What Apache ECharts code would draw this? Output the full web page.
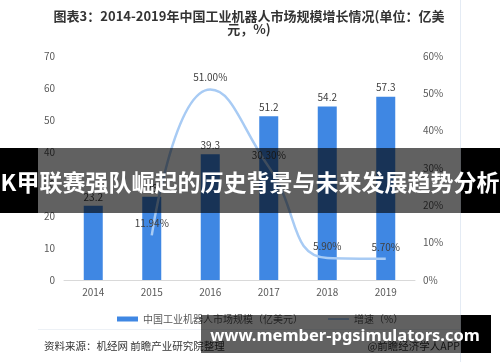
<!DOCTYPE html>
<html>
<head>
<meta charset="utf-8">
<script src="https://cdn.jsdelivr.net/npm/echarts@6/dist/echarts.min.js"></script>
<style>html,body{margin:0;padding:0;background:#fff;}#c{width:500px;height:362px;}</style>
</head>
<body>
<div id="c"></div>
<script>
var categories = ['2014', '2015', '2016', '2017', '2018', '2019'];
var marketSize = [23.2, 26.0, 39.3, 51.2, 54.2, 57.3];
var growthRate = [null, 11.94, 51.00, 30.30, 5.90, 5.70];
var leftTicks = { min: 0, max: 70, interval: 10 };
var rightTicks = { min: 0, max: 60, interval: 10 };
var seriesNames = ['中国工业机器人市场规模（亿美元）', '增速（%）'];
var titleText = '图表3：2014-2019年中国工业机器人市场规模增长情况(单位：亿美\n元，%)';
var sourceText = '资料来源：机经网 前瞻产业研究院整理';
var appText = '@前瞻经济学人APP';
var bannerText = 'K甲联赛强队崛起的历史背景与未来发展趋势分析';
var urlText = 'www.member-pgsimulators.com';

var chart = echarts.init(document.getElementById('c'), null, { renderer: 'canvas' });
var FONT = '"Noto Sans CJK SC", "Noto Sans", sans-serif';
chart.setOption({
  animation: false,
  textStyle: { fontFamily: FONT },
  grid: { left: 64, right: 85, top: 56, bottom: 82 },
  legend: {
    left: 112, top: 309,
    itemWidth: 21, itemHeight: 5, itemGap: 24,
    textStyle: { fontSize: 10, color: '#595959', fontFamily: FONT },
    data: [{ name: seriesNames[0], icon: 'rect' }, { name: seriesNames[1] }]
  },
  xAxis: {
    type: 'category', data: categories,
    axisLine: { lineStyle: { color: '#d9d9d9' } },
    axisTick: { show: false },
    axisLabel: { color: '#595959', fontSize: 10, margin: 7 }
  },
  yAxis: [
    {
      type: 'value', min: leftTicks.min, max: leftTicks.max, interval: leftTicks.interval,
      splitLine: { show: false }, axisLine: { show: false }, axisTick: { show: false },
      axisLabel: { color: '#595959', fontSize: 10, margin: 9 }
    },
    {
      type: 'value', min: rightTicks.min, max: rightTicks.max, interval: rightTicks.interval,
      splitLine: { show: false }, axisLine: { show: false }, axisTick: { show: false },
      axisLabel: { color: '#595959', fontSize: 10, margin: 8, formatter: '{value}%' }
    }
  ],
  series: [
    {
      name: seriesNames[0], type: 'bar', data: marketSize, barWidth: 19,
      itemStyle: { color: '#3f87e3' },
      label: { show: true, position: 'top', distance: 4, color: '#404040', fontSize: 10 }
    },
    {
      name: seriesNames[1], type: 'line', yAxisIndex: 1, data: growthRate,
      smooth: true, symbol: 'circle', symbolSize: 2, showSymbol: true, connectNulls: false,
      lineStyle: { color: '#a8cbf4', width: 2.5 },
      itemStyle: { color: 'rgba(168,203,244,0)', borderWidth: 0 },
      label: { show: true, position: 'top', distance: 6, color: '#404040', fontSize: 10,
        formatter: function (p) { return p.value == null ? '' : p.value.toFixed(2) + '%'; } }
    }
  ],
  graphic: [
    { type: 'text', z: 10, style: { x: 249, y: 10, text: titleText, textAlign: 'center', font: 'bold 13px ' + FONT, fill: '#333', lineHeight: 13 } },
    { type: 'line', z: 1, shape: { x1: 460.5, y1: 0, x2: 460.5, y2: 362 }, style: { stroke: '#e4ebf4', lineWidth: 1 } },
    { type: 'line', z: 1, shape: { x1: 38, y1: 329.5, x2: 460, y2: 329.5 }, style: { stroke: '#edf1f6', lineWidth: 1 } },
    { type: 'text', z: 10, style: { x: 44, y: 346, text: sourceText, textVerticalAlign: 'middle', font: '10.5px ' + FONT, fill: '#333' } },
    { type: 'text', z: 10, style: { x: 460, y: 346, text: appText, textAlign: 'right', textVerticalAlign: 'middle', font: '10.5px ' + FONT, fill: '#333' } },
    { type: 'rect', z: 100, shape: { x: 0, y: 148, width: 38, height: 65 }, style: { fill: '#000' } },
    { type: 'rect', z: 100, shape: { x: 461, y: 148, width: 39, height: 65 }, style: { fill: '#000' } },
    { type: 'rect', z: 100, shape: { x: 38, y: 148, width: 423, height: 65 }, style: { fill: 'rgba(0,0,0,0.62)' } },
    { type: 'text', z: 101, style: { x: 250, y: 182, text: bannerText, textAlign: 'center', textVerticalAlign: 'middle', font: 'bold 23px ' + FONT, fill: '#fff' } },
    { type: 'rect', z: 100, shape: { x: 201, y: 315, width: 260, height: 38 }, style: { fill: 'rgba(0,0,0,0.62)' } },
    { type: 'rect', z: 100, shape: { x: 461, y: 315, width: 30, height: 38 }, style: { fill: '#000' } },
    { type: 'text', z: 101, style: { x: 345, y: 336, text: urlText, textAlign: 'center', textVerticalAlign: 'middle', font: 'bold 16.5px "Noto Sans", sans-serif', fill: '#fff' } }
  ]
});
</script>
</body>
</html>
